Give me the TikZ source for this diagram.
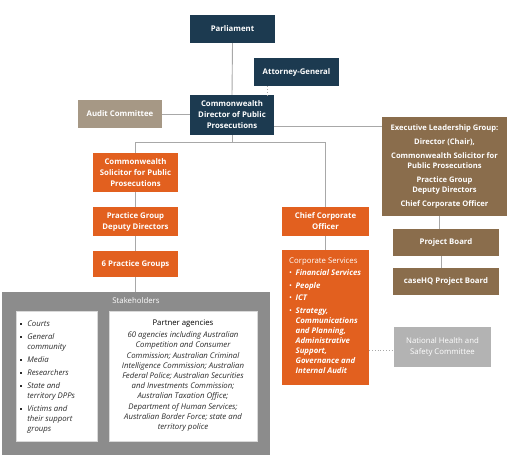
\documentclass[tikz,border=0pt]{standalone}
\usepackage{fontspec}
\setmainfont{Open Sans}
\definecolor{navy}{HTML}{1C3A50}
\definecolor{orng}{HTML}{E2601F}
\definecolor{brwn}{HTML}{8A6D4C}
\definecolor{tan}{HTML}{A69885}
\definecolor{stgray}{HTML}{8C8C8C}
\definecolor{ltgray}{HTML}{B3B3B3}
\definecolor{lngray}{HTML}{A8A8A8}
\definecolor{txtdark}{HTML}{2A2A2A}
\begin{document}
\begin{tikzpicture}[x=1pt,y=-1pt,
  box/.style={draw=none, inner sep=1pt, align=center, text=white,
    font=\bfseries\fontsize{7.8}{11}\selectfont},
  navybox/.style={box, fill=navy},
  orbox/.style={box, fill=orng},
  brbox/.style={box, fill=brwn},
  conn/.style={draw=lngray, line width=0.9pt},
  dotconn/.style={draw=lngray, line width=0.8pt, dotted},
  whitebox/.style={fill=white, draw=black!15, line width=0.4pt, inner sep=0pt},
  sqbul/.style={}]
\useasboundingbox[fill=white] (0,0) rectangle (513,469);

% top nodes
\node[navybox, minimum width=85pt, minimum height=28pt] (parl) at (232.5,29) {Parliament};
\node[navybox, minimum width=85pt, minimum height=28pt] (ag) at (296.5,72) {Attorney-General};
\node[navybox, minimum width=84pt, minimum height=40pt] (cdpp) at (232,115) {Commonwealth\\Director of Public\\Prosecutions};
\node[box, fill=tan, minimum width=84pt, minimum height=28pt] (audit) at (120,114) {Audit Committee};

% left orange column
\node[orbox, minimum width=85pt, minimum height=39pt] (csp) at (135.5,172.5) {Commonwealth\\Solicitor for Public\\Prosecutions};
\node[orbox, minimum width=85pt, minimum height=29pt] (pgdd) at (135.5,221.5) {Practice Group\\Deputy Directors};
\node[orbox, minimum width=85pt, minimum height=26pt] (pg6) at (135.5,264) {6 Practice Groups};

% middle orange column
\node[orbox, minimum width=87pt, minimum height=29pt] (cco) at (325.5,221.5) {Chief Corporate\\Officer};
\node[orbox, minimum width=87pt, minimum height=135pt, anchor=north, inner sep=0pt] (cs) at (325.5,250) {};
\node[text=white, anchor=north west, inner sep=0pt, font=\fontsize{7.8}{10}\selectfont] (cstxt) at (289,256)
{\begin{tabular}{@{}l@{\hspace{3.5pt}}l@{}}
\multicolumn{2}{@{}l@{}}{Corporate Services}\\[2.5pt]
\textbullet & \textbf{\textit{Financial Services}}\\[2.5pt]
\textbullet & \textbf{\textit{People}}\\[2.5pt]
\textbullet & \textbf{\textit{ICT}}\\[2.5pt]
\textbullet & \textbf{\textit{Strategy,}}\\
 & \textbf{\textit{Communications}}\\
 & \textbf{\textit{and Planning,}}\\
 & \textbf{\textit{Administrative}}\\
 & \textbf{\textit{Support,}}\\
 & \textbf{\textit{Governance and}}\\
 & \textbf{\textit{Internal Audit}}
\end{tabular}};

% right brown column
\node[brbox, minimum width=125pt, minimum height=99pt, font=\bfseries\fontsize{7.6}{9.8}\selectfont] (elg) at (444.5,166.5)
{Executive Leadership Group:\\[4.5pt]Director (Chair),\\[4.5pt]Commonwealth Solicitor for\\Public Prosecutions\\[4.5pt]Practice Group\\Deputy Directors\\[4.5pt]Chief Corporate Officer};
\node[brbox, minimum width=106pt, minimum height=27pt] (pb) at (446,242.5) {Project Board};
\node[brbox, minimum width=106pt, minimum height=27pt] (chq) at (446,281.5) {caseHQ Project Board};
\node[box, fill=ltgray, minimum width=97pt, minimum height=40pt, font=\fontsize{7.8}{10.5}\selectfont] (nhsc) at (442.5,347) {National Health and\\Safety Committee};

% stakeholders
\node[fill=stgray, minimum width=268pt, minimum height=163pt, inner sep=0pt] (stake) at (136,373.5) {};
\node[text=white, font=\fontsize{7.8}{9}\selectfont, inner sep=0pt] (staketitle) at (136,301) {Stakeholders};
\node[whitebox, minimum width=81pt, minimum height=130pt] (lbox) at (56.5,376) {};
\node[whitebox, minimum width=148pt, minimum height=130pt] (rbox) at (183,376) {};
\node[anchor=north west, inner sep=0pt, text=txtdark, font=\fontsize{7.8}{10}\selectfont] (ltxt) at (20,319)
{\begin{tabular}{@{}l@{\hspace{5.5pt}}l@{}}
\raisebox{1.4pt}{\rule{1.7pt}{1.7pt}} & \textit{Courts}\\[3pt]
\raisebox{1.4pt}{\rule{1.7pt}{1.7pt}} & \textit{General}\\
 & \textit{community}\\[3pt]
\raisebox{1.4pt}{\rule{1.7pt}{1.7pt}} & \textit{Media}\\[3pt]
\raisebox{1.4pt}{\rule{1.7pt}{1.7pt}} & \textit{Researchers}\\[3pt]
\raisebox{1.4pt}{\rule{1.7pt}{1.7pt}} & \textit{State and}\\
 & \textit{territory DPPs}\\[3pt]
\raisebox{1.4pt}{\rule{1.7pt}{1.7pt}} & \textit{Victims and}\\
 & \textit{their support}\\
 & \textit{groups}
\end{tabular}};
\node[anchor=north, inner sep=0pt, text=txtdark, align=center, font=\fontsize{7.8}{10.2}\selectfont] (rtxt) at (183,320)
{\textcolor{black}{Partner agencies}\\[1.5pt]
\itshape 60 agencies including Australian\\
\itshape Competition and Consumer\\
\itshape Commission; Australian Criminal\\
\itshape Intelligence Commission; Australian\\
\itshape Federal Police; Australian Securities\\
\itshape and Investments Commission;\\
\itshape Australian Taxation Office;\\
\itshape Department of Human Services;\\
\itshape Australian Border Force; state and\\
\itshape territory police};

% connectors
\draw[conn] (parl.south) -- (cdpp.north);
\draw[dotconn] ([xshift=-29.5pt]ag.south) -- ([xshift=-29.5pt]ag.south |- cdpp.north);
\draw[conn] (audit.east) -- (audit.east -| cdpp.west);
\draw[conn] ([yshift=-11pt]cdpp.east) -- ([yshift=-11pt]cdpp.east -| elg.west);
\draw[conn] (cdpp.south) -- ++(0,7) coordinate (jn);
\draw[conn] (jn -| csp.north) -- (jn -| cco.north);
\draw[conn] (jn -| csp.north) -- (csp.north);
\draw[conn] (jn -| cco.north) -- (cco.north);
\draw[conn] (csp.south) -- (pgdd.north);
\draw[conn] (pgdd.south) -- (pg6.north);
\draw[conn] (pg6.south) -- (pg6.south |- stake.north);
\draw[conn] (cco.south) -- (cs.north);
\draw[conn] ([xshift=-5pt]elg.south) -- ([xshift=-5pt]elg.south |- pb.north);
\draw[conn] ([xshift=-5pt]pb.south) -- ([xshift=-5pt]pb.south |- chq.north);
\draw[dotconn] ([yshift=-32.5pt]cs.east) -- ([yshift=-32.5pt]cs.east -| nhsc.west);
\end{tikzpicture}
\end{document}
